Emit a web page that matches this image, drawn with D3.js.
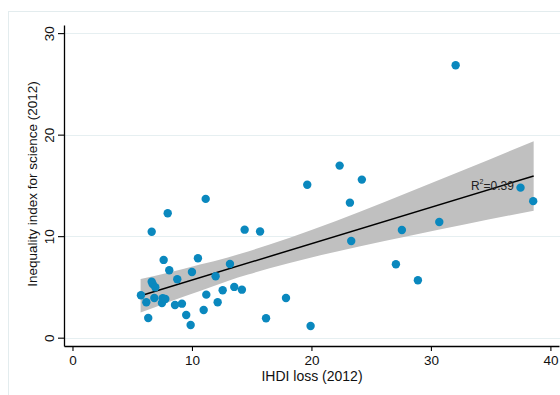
<!DOCTYPE html>
<html>
<head>
<meta charset="utf-8">
<script src="https://cdn.jsdelivr.net/npm/d3@7"></script>
<style>
  html, body { margin: 0; padding: 0; background: #fff; }
  svg { display: block; font-family: "Liberation Sans", Arial, sans-serif; }
</style>
</head>
<body>
<svg id="chart" width="560" height="395"></svg>
<script>
// IHDI loss (x) vs inequality index for science (y), 2012
const ihdiLoss = [5.73, 6.18, 6.34, 6.63, 6.63, 6.71, 6.93, 6.85, 7.49, 7.55, 7.77, 7.63,
  7.97, 8.10, 8.58, 8.77, 9.16, 9.52, 9.89, 10.00, 10.50, 10.98, 11.15, 11.20,
  11.98, 12.15, 12.57, 13.18, 13.54, 14.18, 14.41, 15.70, 16.20, 17.87, 19.65, 19.93,
  22.36, 23.22, 23.33, 24.22, 27.07, 27.57, 28.91, 30.70, 32.07, 37.50, 38.56];
const scienceIneq = [4.18, 3.49, 1.94, 10.44, 5.52, 5.29, 4.97, 3.91, 3.42, 3.88, 3.81, 7.66,
  12.26, 6.64, 3.22, 5.75, 3.35, 2.24, 1.25, 6.47, 7.82, 2.73, 13.67, 4.24,
  6.05, 3.49, 4.67, 7.26, 5.00, 4.73, 10.64, 10.46, 1.92, 3.91, 15.07, 1.15,
  16.95, 13.30, 9.53, 15.57, 7.23, 10.61, 5.65, 11.40, 26.84, 14.78, 13.45];

// Linear fit and its confidence band
const fitX = [5.70, 38.60];
const fitY = [4.13, 15.93];
const bandX  = [5.70, 8.00, 10.67, 13.00, 14.70, 16.50, 20.00, 24.00, 28.24, 33.00, 38.60];
const bandLo = [2.47, 3.50, 4.61, 5.59, 6.22, 6.83, 7.91, 8.99, 10.05, 11.20, 12.51];
const bandHi = [5.79, 6.40, 7.21, 7.91, 8.50, 9.17, 10.61, 12.39, 14.37, 16.64, 19.35];
const r2Label = { x: 33.35, y: 14.55, base: "R", sup: "2", rest: "=0.39" };

const xTicks = [0, 10, 20, 30, 40];
const yTicks = [0, 10, 20, 30];
const xTitle = "IHDI loss (2012)";
const yTitle = "Inequality index for science (2012)";

const svg = d3.select("#chart");

// outer graph region frame
svg.append("rect")
  .attr("x", 8.5).attr("y", 11.5).attr("width", 600).attr("height", 400)
  .attr("fill", "none").attr("stroke", "#e3ecee").attr("stroke-width", 1);

const x = d3.scaleLinear().domain([-0.71, 40.72]).range([64, 559]);
const y = d3.scaleLinear().domain([-0.82, 30.8]).range([346, 25]);

// horizontal grid lines
svg.append("g").selectAll("line").data(yTicks).join("line")
  .attr("x1", 64).attr("x2", 560)
  .attr("y1", d => Math.round(y(d)) + 0.5).attr("y2", d => Math.round(y(d)) + 0.5)
  .attr("stroke", "#e6eff1").attr("stroke-width", 1.2);

// confidence band
const band = bandX.map((v, i) => ({ x: v, lo: bandLo[i], hi: bandHi[i] }));
svg.append("path").datum(band)
  .attr("fill", "#c0c0c0")
  .attr("d", d3.area().x(d => x(d.x)).y0(d => y(d.lo)).y1(d => y(d.hi)).curve(d3.curveMonotoneX));

// fitted line
svg.append("line")
  .attr("x1", x(fitX[0])).attr("y1", y(fitY[0]))
  .attr("x2", x(fitX[1])).attr("y2", y(fitY[1]))
  .attr("stroke", "#000").attr("stroke-width", 1.5);

// scatter points
const pts = ihdiLoss.map((v, i) => ({ x: v, y: scienceIneq[i] }));
svg.append("g").selectAll("circle").data(pts).join("circle")
  .attr("cx", d => x(d.x)).attr("cy", d => y(d.y)).attr("r", 4.2)
  .attr("fill", "#0a88be");

// R-squared annotation
const r2 = svg.append("text")
  .attr("x", x(r2Label.x)).attr("y", y(r2Label.y))
  .attr("font-size", 12).attr("fill", "#222");
r2.append("tspan").text(r2Label.base);
r2.append("tspan").attr("font-size", 7).attr("dy", -6).text(r2Label.sup);
r2.append("tspan").attr("dy", 6).text(r2Label.rest);

// axes
const xAxis = svg.append("g").attr("transform", "translate(0,346)")
  .call(d3.axisBottom(x).tickValues(xTicks).tickSize(5).tickSizeOuter(0).tickPadding(4));
const yAxis = svg.append("g").attr("transform", "translate(64,0)")
  .call(d3.axisLeft(y).tickValues(yTicks).tickSize(6).tickSizeOuter(0));

[xAxis, yAxis].forEach(g => {
  g.select(".domain").attr("stroke", "#000").attr("stroke-width", 1.3);
  g.selectAll(".tick line").attr("stroke", "#000").attr("stroke-width", 1.1);
  g.selectAll("text").attr("fill", "#111").attr("font-size", 13.5)
    .attr("font-family", "'Liberation Sans', Arial, sans-serif");
});

yAxis.selectAll(".tick text")
  .attr("transform", "rotate(-90)")
  .attr("x", 0).attr("y", -10.5).attr("dy", 0)
  .attr("text-anchor", "middle");

// axis titles
svg.append("text")
  .attr("x", 312).attr("y", 381)
  .attr("text-anchor", "middle").attr("font-size", 14).attr("fill", "#111")
  .text(xTitle);

svg.append("text")
  .attr("transform", "translate(37,184) rotate(-90)")
  .attr("text-anchor", "middle").attr("font-size", 13.5).attr("fill", "#111")
  .text(yTitle);
</script>
</body>
</html>
